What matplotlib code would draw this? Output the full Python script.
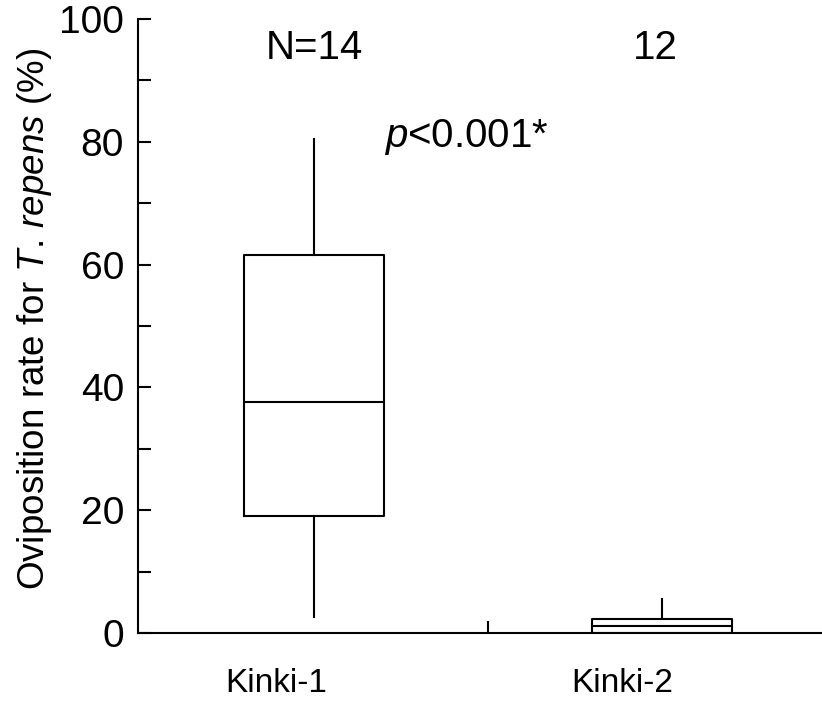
import matplotlib
matplotlib.use("Agg")
import matplotlib.pyplot as plt

plt.rcParams['font.family'] = ['Liberation Sans', 'DejaVu Sans']
plt.rcParams['mathtext.fontset'] = 'custom'
plt.rcParams['mathtext.it'] = 'Liberation Sans:italic'
plt.rcParams['mathtext.rm'] = 'Liberation Sans'

categories = ["Kinki-1", "Kinki-2"]
n_labels = ["N=14", "12"]
whislo = [2.6, 0.0]
q1 = [19.05, 0.0]
med = [37.6, 1.1]
q3 = [61.5, 2.2]
whishi = [80.5, 5.5]
p_text = "$p$<0.001*"

fig = plt.figure(figsize=(8.22, 7.03), dpi=100)
ax = fig.add_axes([138/822, 70/703, 1 - 138/822, (633-19)/703])

stats = []
for i in range(len(categories)):
    stats.append(dict(whislo=whislo[i], q1=q1[i], med=med[i], q3=q3[i],
                      whishi=whishi[i], fliers=[], label=categories[i]))

lw = 1.5
ax.bxp(stats, positions=[1, 2], widths=0.4, showcaps=False, showfliers=False,
       boxprops=dict(color='black', linewidth=lw),
       whiskerprops=dict(color='black', linewidth=lw),
       medianprops=dict(color='black', linewidth=lw))

ax.set_xlim(0.494, 2.46)
ax.set_ylim(0, 100)
ax.spines['top'].set_visible(False)
ax.spines['right'].set_visible(False)
ax.spines['left'].set_linewidth(lw)
ax.spines['bottom'].set_linewidth(lw)

ax.set_yticks([0, 20, 40, 60, 80, 100])
ax.set_yticks([10, 30, 50, 70, 90], minor=True)
ax.tick_params(axis='y', which='both', direction='in', length=9, width=lw,
               labelsize=28, pad=10)
ax.set_xticks([1.5])
ax.set_xticklabels([])
ax.tick_params(axis='x', which='major', direction='in', length=9, width=lw)

cat_x = [0.891, 1.885]
for x, c in zip(cat_x, categories):
    ax.text(x, -8.2, c, ha='center', va='center', fontsize=24)

n_x = [1.0, 1.98]
for x, t in zip(n_x, n_labels):
    ax.text(x, 93.5, t, ha='center', va='baseline', fontsize=29)
ax.text(1.2, 79.15, p_text, ha='left', va='baseline', fontsize=29)

ax.set_ylabel("Oviposition rate for $T.\\,repens$ (%)", fontsize=26.5)
ax.yaxis.set_label_coords(-(138 - 54) / (822 - 138), 0.5 + (326 - 319) / 614)

fig.savefig("out.png", dpi=100)
